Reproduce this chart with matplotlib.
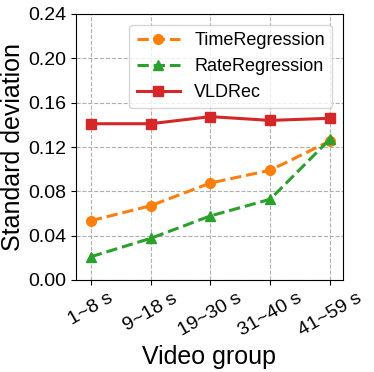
import matplotlib
matplotlib.use("Agg")
import matplotlib.pyplot as plt

plt.rcParams['font.family'] = ['Liberation Sans', 'DejaVu Sans']

groups = ["1~8 s", "9~18 s", "19~30 s", "31~40 s", "41~59 s"]
time_reg = [0.0535, 0.067, 0.0875, 0.099, 0.1254]
rate_reg = [0.021, 0.0376, 0.0578, 0.0728, 0.127]
vldrec = [0.141, 0.141, 0.1474, 0.144, 0.1459]
yticks = [0.00, 0.04, 0.08, 0.12, 0.16, 0.20, 0.24]

fig = plt.figure(figsize=(3.74, 3.72), dpi=100)
ax = fig.add_axes([76/374, 1-280/372, 267/374, 266/372])
x = list(range(len(groups)))
ax.plot(x, time_reg, '--o', color='#ff7f0e', lw=2.2, ms=7, label='TimeRegression')
ax.plot(x, rate_reg, '--^', color='#2ca02c', lw=2.2, ms=7, label='RateRegression')
ax.plot(x, vldrec, '-s', color='#d62728', lw=2.2, ms=7, label='VLDRec')
ax.set_xlim(-0.25, 4.22)
ax.set_ylim(0, 0.24)
ax.set_yticks(yticks)
ax.set_yticklabels([f"{v:.2f}" for v in yticks])
ax.set_xticks(x)
ax.set_xticklabels(groups, rotation=30)
ax.tick_params(labelsize=14)
ax.grid(True, ls='--', color='#b0b0b0', lw=0.8)
ax.set_xlabel('Video group', fontsize=18)
ax.set_ylabel('Standard deviation', fontsize=18, labelpad=2)
ax.legend(fontsize=13, loc='upper right', handlelength=2.4, borderaxespad=0.6)
fig.savefig('out.png', dpi=100)
